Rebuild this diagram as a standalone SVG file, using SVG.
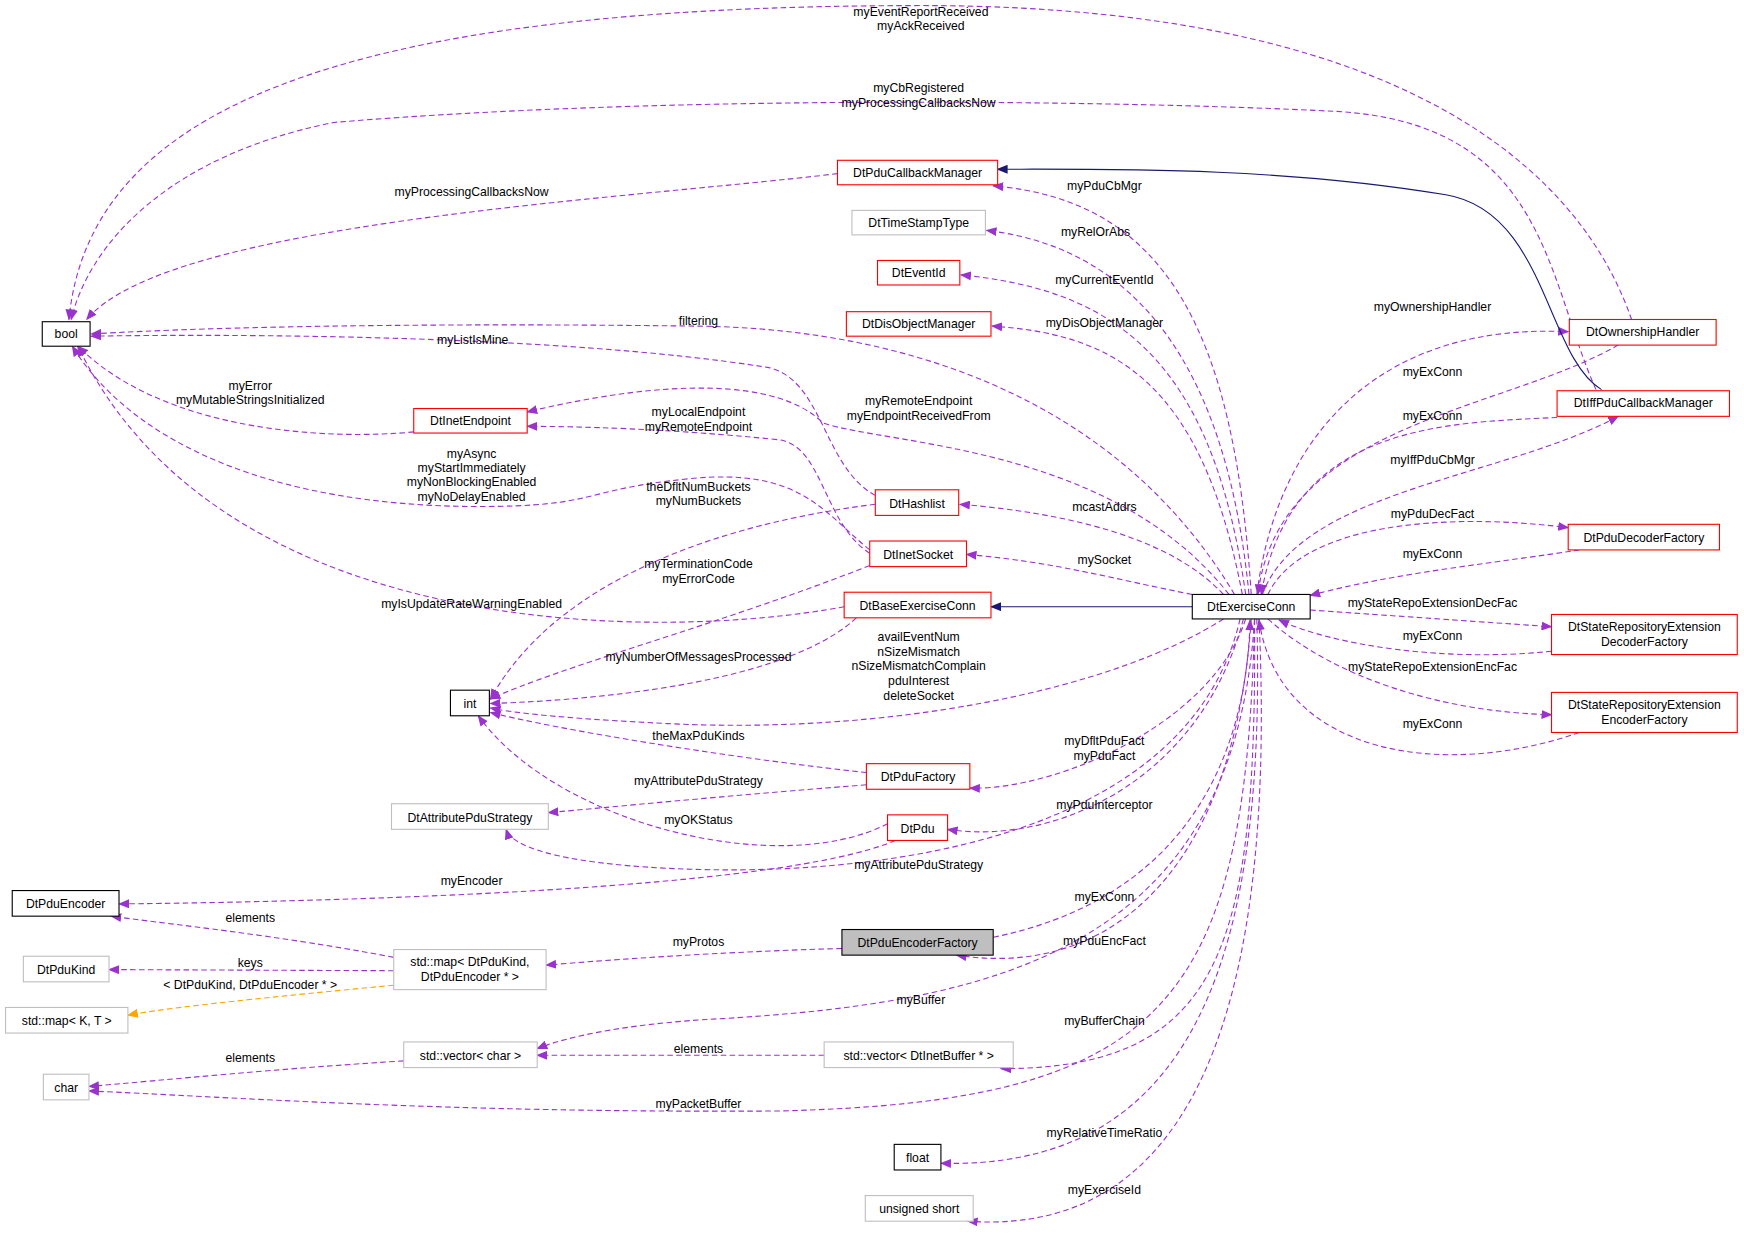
<svg xmlns="http://www.w3.org/2000/svg" width="1744" height="1239" viewBox="0 0 1744 1239">
<style>
text{font-family:"Liberation Sans",Arial,sans-serif;font-size:11px;fill:#000;text-anchor:middle}
.n rect{fill:#fff;stroke-width:1}
.r rect{stroke:#ff0000}.b rect{stroke:#000}.g rect{stroke:#bfbfbf}
.e path{fill:none;stroke:#9a32cd;stroke-dasharray:5,3;marker-end:url(#ap)}
.e path.inh{stroke:#191970;stroke-dasharray:none;marker-end:url(#an)}
.e path.tp{stroke:#ffa500;marker-end:url(#ao)}
</style>
<defs>
<marker id="ap" markerWidth="10" markerHeight="8" refX="9" refY="4" orient="auto" markerUnits="userSpaceOnUse"><path d="M0,0L10,4L0,8z" fill="#9a32cd"/></marker>
<marker id="an" markerWidth="10" markerHeight="8" refX="9" refY="4" orient="auto" markerUnits="userSpaceOnUse"><path d="M0,0L10,4L0,8z" fill="#191970"/></marker>
<marker id="ao" markerWidth="10" markerHeight="8" refX="9" refY="4" orient="auto" markerUnits="userSpaceOnUse"><path d="M0,0L10,4L0,8z" fill="#ffa500"/></marker>
</defs>
<rect width="1744" height="1239" fill="#fff"/>
<g transform="scale(1.1122,1.1132)">
<g id="edges" class="e">
<path d="M1467,287 C1430,180 1300,5 828,5 C300,5 80,100 62,287"/>
<path d="M1435,350 C1390,250 1390,110 1200,100 C1000,90 600,85 300,110 C150,140 80,220 64,287"/>
<path d="M753,156 C550,180 150,200 78,287"/>
<path d="M1125,534 C1110,300 1050,180 893,167"/>
<path d="M1123,534 C1100,300 1000,220 887,207"/>
<path d="M1120,534 C1090,320 1000,260 864,247"/>
<path d="M1117,534 C1080,340 1000,300 892,293"/>
<path d="M1110,534 C1000,350 800,295 628,293 C400,290 200,293 82,300"/>
<path d="M787,445 C740,420 740,340 690,330 C500,300 200,300 82,302"/>
<path d="M1130,534 C1150,380 1250,290 1410,298"/>
<path d="M1455,310 C1350,370 1150,380 1131,534"/>
<path d="M1400,375 C1300,380 1160,380 1134,534"/>
<path d="M1135,534 C1170,440 1350,430 1455,374"/>
<path class="inh" d="M1440,350 C1390,320 1390,190 1300,175 C1150,150 1000,152 897,152"/>
<path d="M372,388 C300,395 150,390 70,311"/>
<path d="M1105,534 C1000,400 800,400 740,380 C700,340 600,340 474,370"/>
<path d="M782,497 C740,470 740,400 700,395 C600,385 520,383 474,383"/>
<path d="M782,494 C740,460 720,420 620,430 C520,440 540,455 430,455 C250,455 120,400 65,311"/>
<path d="M787,453 C650,470 500,520 441,628"/>
<path d="M1100,534 C1050,480 950,460 863,453"/>
<path d="M1140,534 C1170,470 1300,460 1410,474"/>
<path d="M1420,494 C1350,505 1250,515 1178,535"/>
<path d="M1072,534 C1000,520 950,505 869,498"/>
<path d="M782,508 C650,560 500,600 441,628"/>
<path d="M759,545 C600,575 200,580 70,311"/>
<path class="inh" d="M1072,545 L891,545"/>
<path d="M1178,548 L1395,563"/>
<path d="M1395,585 C1300,595 1200,580 1150,557"/>
<path d="M1100,556 C1000,620 800,660 600,650 C500,645 460,640 441,636"/>
<path d="M770,555 C700,620 500,630 441,632"/>
<path d="M1140,556 C1200,610 1300,640 1395,642"/>
<path d="M1420,658 C1300,700 1150,680 1132,557"/>
<path d="M779,694 C650,680 500,655 441,640"/>
<path d="M1120,556 C1090,650 950,710 872,708"/>
<path d="M779,705 C650,715 550,725 493,730"/>
<path d="M1118,556 C1080,700 950,760 852,745"/>
<path d="M798,740 C700,790 500,740 430,643"/>
<path d="M1115,556 C1070,750 800,790 600,780 C500,775 460,760 455,745"/>
<path d="M805,755 C700,800 300,810 107,812"/>
<path d="M893,842 C1050,810 1120,700 1124,557"/>
<path d="M354,860 C250,840 150,830 100,823"/>
<path d="M1125,556 C1110,780 1000,880 860,858"/>
<path d="M757,852 C650,855 550,862 491,867"/>
<path d="M354,872 L98,871"/>
<path class="tp" d="M354,885 C250,895 150,905 115,912"/>
<path d="M1128,556 C1110,850 900,900 650,915 C550,920 500,935 483,942"/>
<path d="M1128,556 C1130,850 1100,960 900,960"/>
<path d="M741,948 L483,948"/>
<path d="M363,953 C250,960 150,970 80,976"/>
<path d="M1128,556 C1120,900 1050,990 700,998 C400,1000 200,985 80,980"/>
<path d="M1130,556 C1140,900 1050,1050 846,1045"/>
<path d="M1132,556 C1150,950 1050,1110 870,1097"/>
</g>
<g id="labels">
<text x="828" y="14">myEventReportReceived</text><text x="828" y="27">myAckReceived</text>
<text x="826" y="83">myCbRegistered</text><text x="826" y="96">myProcessingCallbacksNow</text>
<text x="424" y="176">myProcessingCallbacksNow</text>
<text x="993" y="171">myPduCbMgr</text>
<text x="985" y="212">myRelOrAbs</text>
<text x="993" y="255">myCurrentEventId</text>
<text x="993" y="294">myDisObjectManager</text>
<text x="628" y="292">filtering</text>
<text x="425" y="309">myListIsMine</text>
<text x="1288" y="279">myOwnershipHandler</text>
<text x="1288" y="338">myExConn</text>
<text x="225" y="350">myError</text><text x="225" y="363">myMutableStringsInitialized</text>
<text x="826" y="364">myRemoteEndpoint</text><text x="826" y="377">myEndpointReceivedFrom</text>
<text x="1288" y="377">myExConn</text>
<text x="628" y="374">myLocalEndpoint</text><text x="628" y="387">myRemoteEndpoint</text>
<text x="424" y="411">myAsync</text><text x="424" y="424">myStartImmediately</text><text x="424" y="437">myNonBlockingEnabled</text><text x="424" y="450">myNoDelayEnabled</text>
<text x="1288" y="417">myIffPduCbMgr</text>
<text x="628" y="441">theDfltNumBuckets</text><text x="628" y="454">myNumBuckets</text>
<text x="993" y="459">mcastAddrs</text>
<text x="1288" y="465">myPduDecFact</text>
<text x="1288" y="501">myExConn</text>
<text x="993" y="507">mySocket</text>
<text x="628" y="510">myTerminationCode</text><text x="628" y="524">myErrorCode</text>
<text x="424" y="546">myIsUpdateRateWarningEnabled</text>
<text x="1288" y="545">myStateRepoExtensionDecFac</text>
<text x="1288" y="575">myExConn</text>
<text x="826" y="576">availEventNum</text><text x="826" y="589">nSizeMismatch</text><text x="826" y="602">nSizeMismatchComplain</text><text x="826" y="615">pduInterest</text><text x="826" y="629">deleteSocket</text>
<text x="628" y="594">myNumberOfMessagesProcessed</text>
<text x="1288" y="603">myStateRepoExtensionEncFac</text>
<text x="1288" y="654">myExConn</text>
<text x="628" y="665">theMaxPduKinds</text>
<text x="993" y="669">myDfltPduFact</text><text x="993" y="683">myPduFact</text>
<text x="628" y="705">myAttributePduStrategy</text>
<text x="993" y="727">myPduInterceptor</text>
<text x="628" y="740">myOKStatus</text>
<text x="826" y="781">myAttributePduStrategy</text>
<text x="424" y="795">myEncoder</text>
<text x="993" y="809">myExConn</text>
<text x="225" y="828">elements</text>
<text x="993" y="849">myPduEncFact</text>
<text x="628" y="850">myProtos</text>
<text x="225" y="869">keys</text>
<text x="225" y="888">&lt; DtPduKind, DtPduEncoder * &gt;</text>
<text x="828" y="902">myBuffer</text>
<text x="993" y="921">myBufferChain</text>
<text x="628" y="946">elements</text>
<text x="225" y="954">elements</text>
<text x="628" y="995">myPacketBuffer</text>
<text x="993" y="1021">myRelativeTimeRatio</text>
<text x="993" y="1073">myExerciseId</text>
</g>
<g id="bool" class="n b"><rect x="38" y="289" width="43" height="22"/><text x="59.5" y="304">bool</text></g>
<g id="DtPduCallbackManager" class="n r"><rect x="753" y="144" width="144" height="22"/><text x="825" y="159">DtPduCallbackManager</text></g>
<g id="DtTimeStampType" class="n g"><rect x="766" y="189" width="120" height="22"/><text x="826" y="204">DtTimeStampType</text></g>
<g id="DtEventId" class="n r"><rect x="789" y="234" width="74" height="22"/><text x="826" y="249">DtEventId</text></g>
<g id="DtDisObjectManager" class="n r"><rect x="761" y="280" width="130" height="22"/><text x="826" y="295">DtDisObjectManager</text></g>
<g id="DtOwnershipHandler" class="n r"><rect x="1411" y="287" width="132" height="23"/><text x="1477" y="302">DtOwnershipHandler</text></g>
<g id="DtInetEndpoint" class="n r"><rect x="372" y="367" width="102" height="22"/><text x="423" y="382">DtInetEndpoint</text></g>
<g id="DtIffPduCallbackManager" class="n r"><rect x="1400" y="351" width="155" height="23"/><text x="1477.5" y="366">DtIffPduCallbackManager</text></g>
<g id="DtHashlist" class="n r"><rect x="787" y="440" width="75" height="23"/><text x="824.5" y="456">DtHashlist</text></g>
<g id="DtInetSocket" class="n r"><rect x="782" y="486" width="87" height="23"/><text x="825.5" y="502">DtInetSocket</text></g>
<g id="DtPduDecoderFactory" class="n r"><rect x="1410" y="471" width="136" height="23"/><text x="1478" y="487">DtPduDecoderFactory</text></g>
<g id="DtBaseExerciseConn" class="n r"><rect x="759" y="532" width="132" height="23"/><text x="825" y="548">DtBaseExerciseConn</text></g>
<g id="DtExerciseConn" class="n b"><rect x="1072" y="534" width="106" height="22"/><text x="1125" y="549">DtExerciseConn</text></g>
<g id="DtStateRepositoryExtensionDecoderFactory" class="n r"><rect x="1395" y="552" width="167" height="36"/><text x="1478.5" y="567">DtStateRepositoryExtension</text><text x="1478.5" y="580">DecoderFactory</text></g>
<g id="DtStateRepositoryExtensionEncoderFactory" class="n r"><rect x="1395" y="622" width="167" height="36"/><text x="1478.5" y="637">DtStateRepositoryExtension</text><text x="1478.5" y="650">EncoderFactory</text></g>
<g id="int" class="n b"><rect x="405" y="620" width="35" height="23"/><text x="422.5" y="636">int</text></g>
<g id="DtPduFactory" class="n r"><rect x="779" y="686" width="93" height="23"/><text x="825.5" y="702">DtPduFactory</text></g>
<g id="DtAttributePduStrategy" class="n g"><rect x="352" y="722" width="141" height="23"/><text x="422.5" y="738">DtAttributePduStrategy</text></g>
<g id="DtPdu" class="n r"><rect x="798" y="732" width="54" height="23"/><text x="825" y="748">DtPdu</text></g>
<g id="DtPduEncoder" class="n b"><rect x="11" y="800" width="96" height="23"/><text x="59" y="816">DtPduEncoder</text></g>
<g id="DtPduEncoderFactory" class="n"><rect x="757" y="835" width="136" height="23" style="fill:#bfbfbf;stroke:#000"/><text x="825" y="851">DtPduEncoderFactory</text></g>
<g id="DtPduKind" class="n g"><rect x="21" y="859" width="77" height="23"/><text x="59.5" y="875">DtPduKind</text></g>
<g id="stdmap" class="n g"><rect x="354" y="853" width="137" height="36"/><text x="422.5" y="868">std::map&lt; DtPduKind,</text><text x="422.5" y="881">DtPduEncoder * &gt;</text></g>
<g id="stdmapKT" class="n g"><rect x="5" y="905" width="110" height="23"/><text x="60" y="921">std::map&lt; K, T &gt;</text></g>
<g id="vectorchar" class="n g"><rect x="363" y="936" width="120" height="23"/><text x="423" y="952">std::vector&lt; char &gt;</text></g>
<g id="vectorbuf" class="n g"><rect x="741" y="936" width="170" height="23"/><text x="826" y="952">std::vector&lt; DtInetBuffer * &gt;</text></g>
<g id="char" class="n g"><rect x="39" y="965" width="41" height="23"/><text x="59.5" y="981">char</text></g>
<g id="float" class="n b"><rect x="804" y="1028" width="42" height="23"/><text x="825" y="1044">float</text></g>
<g id="unsignedshort" class="n g"><rect x="778" y="1074" width="97" height="23"/><text x="826.5" y="1090">unsigned short</text></g>
</g>
</svg>
